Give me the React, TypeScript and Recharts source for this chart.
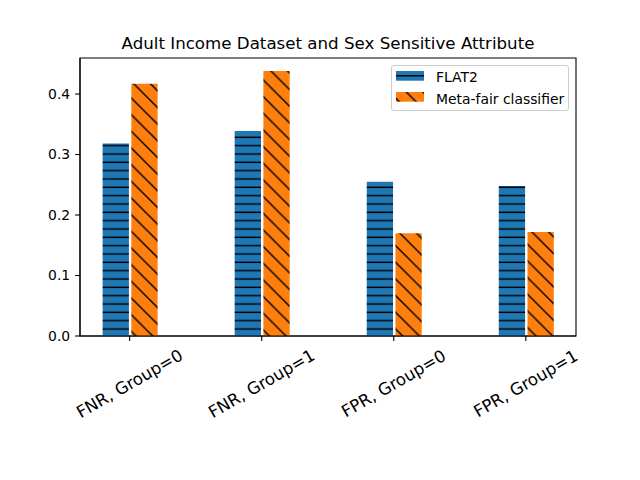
import React from 'react';
import { BarChart, Bar, XAxis, YAxis, Legend, ReferenceArea, Customized } from 'recharts';

const categories = ['FNR, Group=0', 'FNR, Group=1', 'FPR, Group=0', 'FPR, Group=1'];
const flat2Values = [0.318, 0.339, 0.255, 0.248];
const metaFairValues = [0.417, 0.438, 0.170, 0.172];
const yTicks = [0, 0.1, 0.2, 0.3, 0.4];
const xTicks = [0, 1, 2, 3];
const seriesNames = ['FLAT2', 'Meta-fair classifier'];
const title = 'Adult Income Dataset and Sex Sensitive Attribute';

const data = categories.map((c, i) => ({ x: i, label: c, flat2: flat2Values[i], meta: metaFairValues[i] }));

const BLUE = '#1f77b4';
const ORANGE = '#ff7f0e';
const FONT = '"DejaVu Sans", sans-serif';
const S = 100 / 6;
const H = 100 / 12;
const X_DOMAIN: [number, number] = [-0.376, 3.38];
const Y_DOMAIN: [number, number] = [0, 0.4595];

function Defs() {
  return (
    <svg width={0} height={0} style={{ position: 'absolute', left: 0, top: 0 }}>
      <defs>
        <pattern id="hatchH" patternUnits="userSpaceOnUse" x={0} y={0} width={10} height={H}>
          <rect x={0} y={0} width={10} height={H} fill={BLUE} />
          <line x1={-1} y1={4} x2={11} y2={4} stroke="#000" strokeWidth={1.4} />
        </pattern>
        <pattern id="hatchD" patternUnits="userSpaceOnUse" x={0} y={0} width={S} height={S}>
          <rect x={0} y={0} width={S} height={S} fill={ORANGE} />
          <path d={`M${-S},0 L${S},${2 * S} M0,${-S} L${2 * S},${S} M${-S},${-S} L${2 * S},${2 * S}`} stroke="#000" strokeWidth={1.4} />
        </pattern>
        <pattern id="hatchDLeg" patternUnits="userSpaceOnUse" x={6} y={0} width={S} height={S}>
          <rect x={0} y={0} width={S} height={S} fill={ORANGE} />
          <path d={`M${-S},0 L${S},${2 * S} M0,${-S} L${2 * S},${S} M${-S},${-S} L${2 * S},${2 * S}`} stroke="#000" strokeWidth={1.4} />
        </pattern>
      </defs>
    </svg>
  );
}

function XTick(props: any) {
  const { x, y, payload } = props;
  const label = categories[payload.value];
  return (
    <g transform={`translate(${x},${y + 38})`}>
      <text
        x={0}
        y={0}
        transform="rotate(-30)"
        textAnchor="middle"
        dominantBaseline="central"
        fontSize={16.67}
        fontFamily={FONT}
        fill="#000"
      >
        {label}
      </text>
    </g>
  );
}

function LegendBox() {
  return (
    <div
      style={{
        width: 176,
        height: 44,
        border: '1px solid #cccccc',
        borderRadius: 3,
        background: 'rgba(255,255,255,0.8)',
        position: 'relative',
        fontFamily: FONT,
        fontSize: 13.9,
        color: '#000',
      }}
    >
      <svg width={30} height={40} style={{ position: 'absolute', left: 4.3, top: 5 }}>
        <rect x={0} y={0} width={28} height={9.7} fill={BLUE} />
        <line x1={0} y1={4.8} x2={28} y2={4.8} stroke="#000" strokeWidth={1.4} />
        <rect x={0} y={21} width={28} height={9.7} fill="url(#hatchDLeg)" />
      </svg>
      <div style={{ position: 'absolute', left: 44, top: 0, lineHeight: '16px', whiteSpace: 'nowrap' }}>
        <div style={{ position: 'absolute', top: 3, left: 0 }}>{seriesNames[0]}</div>
        <div style={{ position: 'absolute', top: 25, left: 0 }}>{seriesNames[1]}</div>
      </div>
    </div>
  );
}

function Title() {
  return (
    <text x={328} y={49} textAnchor="middle" fontSize={16.67} fontFamily={FONT} fill="#000">
      {title}
    </text>
  );
}

export default function App() {
  return (
    <div style={{ position: 'relative', width: 640, height: 480, background: '#fff' }}>
      <style>{`body{margin:0;}`}</style>
      <Defs />
      <BarChart
        width={640}
        height={480}
        data={data}
        margin={{ top: 58, right: 64, left: 30, bottom: 44 }}
        barGap={2.4}
      >
        <XAxis
          dataKey="x"
          type="number"
          domain={X_DOMAIN}
          ticks={xTicks}
          interval={0}
          allowDataOverflow
          height={100}
          tickSize={4.9}
          tickMargin={4.9}
          axisLine={{ stroke: '#000', strokeWidth: 1.1 }}
          tickLine={{ stroke: '#000', strokeWidth: 1.1 }}
          tick={<XTick />}
        />
        <YAxis
          type="number"
          domain={Y_DOMAIN}
          ticks={yTicks}
          allowDataOverflow
          width={50}
          tickSize={4.9}
          tickMargin={4.9}
          tickFormatter={(v: number) => v.toFixed(1)}
          axisLine={{ stroke: '#000', strokeWidth: 1.1 }}
          tickLine={{ stroke: '#000', strokeWidth: 1.1 }}
          tick={{ fill: '#000', fontSize: 13.9, fontFamily: FONT }}
        />
        <Bar dataKey="flat2" name={seriesNames[0]} fill="url(#hatchH)" barSize={26.3} isAnimationActive={false} />
        <Bar dataKey="meta" name={seriesNames[1]} fill="url(#hatchD)" barSize={26.3} isAnimationActive={false} />
        <ReferenceArea
          x1={X_DOMAIN[0]}
          x2={X_DOMAIN[1]}
          y1={Y_DOMAIN[0]}
          y2={Y_DOMAIN[1]}
          fill="none"
          stroke="#000"
          strokeWidth={1.1}
          ifOverflow="visible"
        />
        <Legend
          layout="vertical"
          align="center"
          verticalAlign="middle"
          content={() => <LegendBox />}
          wrapperStyle={{ position: 'absolute', left: 391, top: 65, width: 178, height: 46 }}
        />
        <Customized component={Title} />
      </BarChart>
    </div>
  );
}
